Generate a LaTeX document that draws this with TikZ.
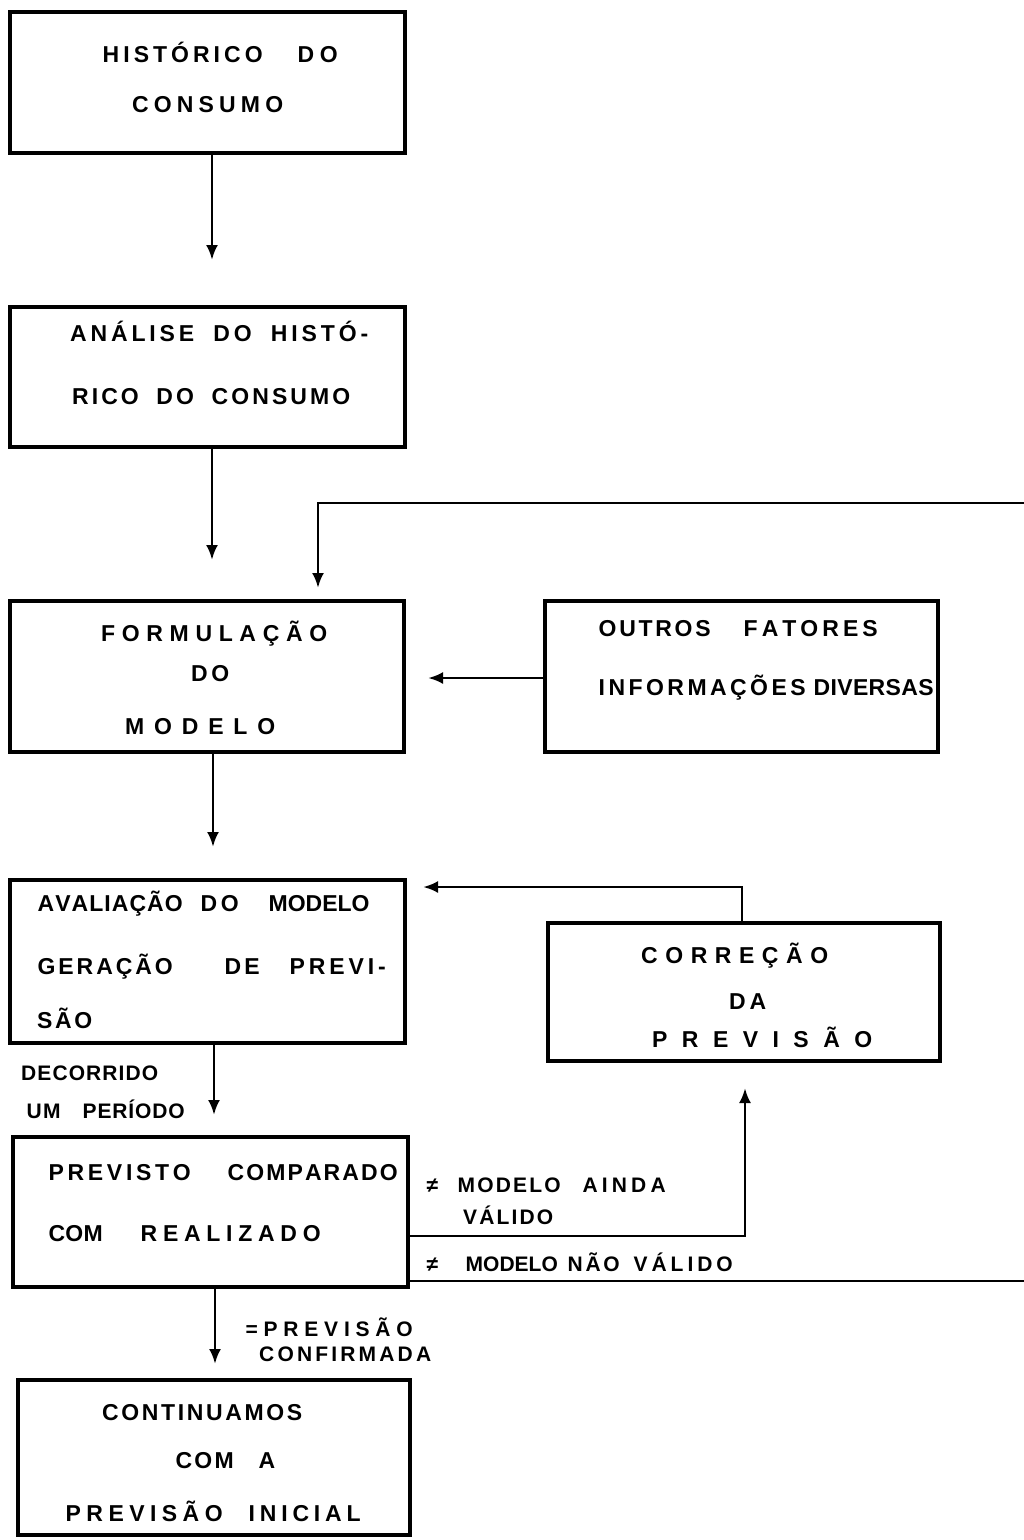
\documentclass[tikz,border=0pt]{standalone}
\usepackage{fontspec}
\setmainfont{Liberation Sans}
\usetikzlibrary{fit,arrows.meta}
\def\spreadit#1{\spreadfirst#1\relax}
\def\spreadfirst#1{#1\spreadloop}
\def\spreadloop#1{\ifx#1\relax\else\hfill#1\expandafter\spreadloop\fi}
\def\W{\kern0.5em}
\newcommand\sline[2]{\makebox[#1pt][l]{\spreadit{#2}}}
\newcommand\sg[3]{\rlap{\kern#1pt\sline{#2}{#3}}}
\tikzset{
  box/.style={draw, line width=3.2pt, inner sep=0pt},
  txt/.style={inner sep=0pt, anchor=base west, font=\bfseries\fontsize{23}{27}\selectfont},
  lbl/.style={inner sep=0pt, anchor=base west, font=\bfseries\fontsize{21}{25}\selectfont},
  arr/.style={line width=2.9pt, -{Latex[length=15pt,width=12pt]}},
  ln/.style={line width=2.9pt}
}
\begin{document}
\begin{tikzpicture}[x=1pt,y=-1pt]
\useasboundingbox[fill=white] (0,0) rectangle (1024,1540);
% boxes
\node[box, fit={(10,12)(405,153)}] (b1) {};
\node[box, fit={(10,307)(405,447)}] (b2) {};
\node[box, fit={(10,601)(404,752)}] (b3) {};
\node[box, fit={(545,601)(938,752)}] (bo) {};
\node[box, fit={(10,880)(405,1043)}] (b4) {};
\node[box, fit={(548,923)(940,1061)}] (bc) {};
\node[box, fit={(13,1137)(408,1287)}] (b5) {};
\node[box, fit={(18,1380)(410,1535)}] (b6) {};
% texts
\node[txt] (t1a) at (102,62) {\sg{0}{160}{HISTÓRICO}\sg{195}{40}{DO}};
\node[txt] (t1b) at (132,112) {\sline{151}{CONSUMO}};
\node[txt] (t2a) at (70,341) {\sline{298}{ANÁLISE\W DO\W HISTÓ-}};
\node[txt] (t2b) at (72,404) {\sline{278}{RICO\W DO\W CONSUMO}};
\node[txt] (t3a) at (101,641) {\sline{226}{FORMULAÇÃO}};
\node[txt] (t3b) at (191,681) {\sline{38}{DO}};
\node[txt] (t3c) at (125,734) {\sline{150}{MODELO}};
\node[txt] (toa) at (598,636) {\sg{0}{112}{OUTROS}\sg{145}{134}{FATORES}};
\node[txt] (tob) at (598,695) {\sg{0}{207}{INFORMAÇÕES}\sg{215}{120}{DIVERSAS}};
\node[txt] (t4a) at (37,911) {\sg{0}{145}{AVALIAÇÃO}\sg{163}{38}{DO}\sg{231}{99}{MODELO}};
\node[txt] (t4b) at (37,974) {\sg{0}{135}{GERAÇÃO}\sg{187}{35}{DE}\sg{252}{96}{PREVI-}};
\node[txt] (t4c) at (37,1028) {\sline{55}{SÃO}};
\node[txt] (tca) at (641,963) {\sline{187}{CORREÇÃO}};
\node[txt] (tcb) at (729,1009) {\sline{37}{DA}};
\node[txt] (tcc) at (652,1047) {\sline{220}{PREVISÃO}};
\node[lbl] (ld1) at (21,1080) {\sline{137}{DECORRIDO}};
\node[lbl] (ld2) at (26,1118) {\sg{0}{34}{UM}\sg{56}{102}{PERÍODO}};
\node[txt] (t5a) at (48,1180) {\sg{0}{142}{PREVISTO}\sg{179}{170}{COMPARADO}};
\node[txt] (t5b) at (48,1241) {\sg{0}{54}{COM}\sg{92}{180}{REALIZADO}};
\node[lbl] (lm1) at (426,1192) {\sg{0}{12}{≠}\sg{31}{103}{MODELO}\sg{156}{83}{AINDA}};
\node[lbl] (lm2) at (463,1224) {\sline{90}{VÁLIDO}};
\node[lbl] (lm3) at (426,1271) {\sg{0}{12}{≠}\sg{39}{92}{MODELO}\sg{141}{52}{NÃO}\sg{207}{99}{VÁLIDO}};
\node[lbl] (lp1) at (245,1336) {\sg{0}{10}{=}\sg{18}{149}{PREVISÃO}};
\node[lbl] (lp2) at (259,1361) {\sline{172}{CONFIRMADA}};
\node[txt] (t6a) at (102,1420) {\sline{200}{CONTINUAMOS}};
\node[txt] (t6b) at (175,1468) {\sg{0}{58}{COM}\sg{83}{15}{A}};
\node[txt] (t6c) at (65,1521) {\sg{0}{157}{PREVISÃO}\sg{183}{112}{INICIAL}};
% connectors
\coordinate (p1) at (212,260);
\draw[arr] (b1.south -| p1) -- (p1);
\coordinate (p2) at (212,560);
\draw[arr] (b2.south -| p2) -- (p2);
\coordinate (fr) at (1024,503);
\coordinate (p3) at (318,588);
\draw[arr] (fr) -- (fr -| p3) -- (p3);
\coordinate (p4) at (428,678);
\draw[arr] (p4 -| bo.west) -- (p4);
\coordinate (p5) at (213,847);
\draw[arr] (b3.south -| p5) -- (p5);
\coordinate (c6) at (742,887);
\coordinate (p6) at (423,887);
\draw[arr] (c6 |- bc.north) -- (c6) -- (p6);
\coordinate (p7) at (214,1115);
\draw[arr] (b4.south -| p7) -- (p7);
\coordinate (k8) at (745,1236);
\coordinate (p8) at (745,1088);
\draw[arr] (k8 -| b5.east) -- (k8) -- (p8);
\coordinate (q9) at (1024,1281);
\draw[ln] (q9 -| b5.east) -- (q9);
\coordinate (p10) at (215,1364);
\draw[arr] (b5.south -| p10) -- (p10);
\end{tikzpicture}
\end{document}
